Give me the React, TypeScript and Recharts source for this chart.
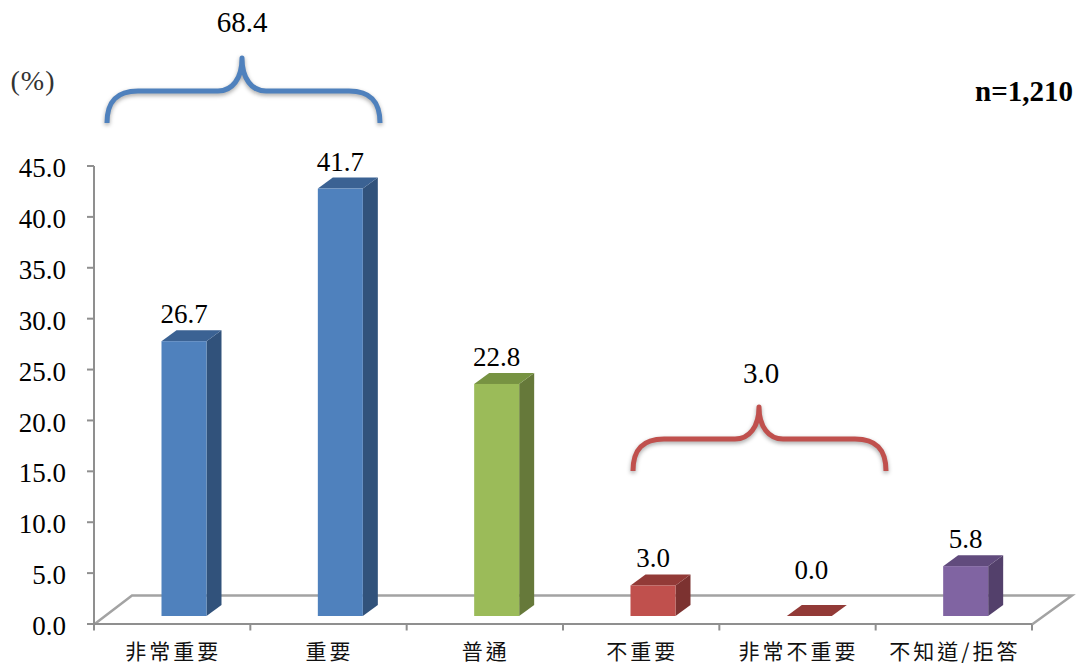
import { Bar, BarChart, LabelList, XAxis, YAxis } from "recharts";

const categories = ["非常重要", "重要", "普通", "不重要", "非常不重要", "不知道/拒答"];
// percentages printed above the bars
const percentages = [26.7, 41.7, 22.8, 3.0, 0.0, 5.8];
// bar heights read against the axis; the source draws the 5.8 bar visibly shorter than its label
const barHeights = [27.0, 42.0, 22.8, 3.0, 0.0, 4.9];
const yTicks = [0, 5, 10, 15, 20, 25, 30, 35, 40, 45];

const FRONT_COLORS = ["#4f81bd", "#4f81bd", "#9bbb59", "#c0504d", "#c0504d", "#8064a2"];
const TOP_COLORS = ["#3b6293", "#3b6293", "#779342", "#923a37", "#923a37", "#614b7d"];
const SIDE_COLORS = ["#31527b", "#31527b", "#66793a", "#7c3230", "#7c3230", "#53406b"];

const SERIF = '"Liberation Serif", serif';
const CJK = '"Noto Sans CJK TC", sans-serif';
const AXIS_GREY = "#8f8f8f";

const DEPTH_X = 15;
const DEPTH_Y = 11;
const BAR_SHIFT_X = 11.5;
const BAR_SHIFT_Y = 8;
const BAND = 156.33;

const chartData = categories.map((name, i) => ({
  name,
  percent: percentages[i],
  height: barHeights[i],
  index: i,
}));

function Box3D(props: any) {
  const { x, y, width, height, index } = props;
  const left = x + BAR_SHIFT_X;
  const right = left + width;
  const top = y - BAR_SHIFT_Y;
  const bottom = y + height - BAR_SHIFT_Y;
  return (
    <g>
      {height > 0 && (
        <polygon
          points={`${right},${top} ${right + DEPTH_X},${top - DEPTH_Y} ${right + DEPTH_X},${bottom - DEPTH_Y} ${right},${bottom}`}
          fill={SIDE_COLORS[index]}
        />
      )}
      <polygon
        points={`${left},${top} ${left + DEPTH_X},${top - DEPTH_Y} ${right + DEPTH_X},${top - DEPTH_Y} ${right},${top}`}
        fill={TOP_COLORS[index]}
      />
      {height > 0 && <rect x={left} y={top} width={width} height={height} fill={FRONT_COLORS[index]} />}
    </g>
  );
}

function BarValue(props: any) {
  const { x, y, width, value } = props;
  const lift = value === 0 ? 46 : 27;
  return (
    <text
      x={x + BAR_SHIFT_X + width / 2 + (value === 0 ? 2 : 0)}
      y={y - BAR_SHIFT_Y - lift + 9}
      textAnchor="middle"
      fontFamily={SERIF}
      fontSize={27}
      fill="#000"
    >
      {Number(value).toFixed(1)}
    </text>
  );
}

function CategoryTick(props: any) {
  const { x, payload, index } = props;
  const axisY = 624.5;
  return (
    <g>
      <line x1={x - BAND / 2} x2={x - BAND / 2} y1={axisY} y2={axisY + 6} stroke={AXIS_GREY} strokeWidth={2} />
      {index === categories.length - 1 && (
        <line x1={x + BAND / 2} x2={x + BAND / 2} y1={axisY} y2={axisY + 6} stroke={AXIS_GREY} strokeWidth={2} />
      )}
      <text x={x + 1} y={658.5} textAnchor="middle" fontFamily={CJK} fontSize={21} letterSpacing={3} fill="#111">
        {payload.value}
      </text>
    </g>
  );
}

function Floor() {
  return (
    <polyline
      points="94,624.5 132,595.5 1072,595.5 1032,624.5"
      fill="none"
      stroke="#a3a3a3"
      strokeWidth={2.5}
    />
  );
}

function Brace({ left, right, tip, mid, tipY, bottom, color }: any) {
  const r = 31;
  const path = [
    `M${left} ${bottom}`,
    `C${left} ${mid + 10} ${left + 10} ${mid} ${left + r} ${mid}`,
    `L${tip - 24} ${mid}`,
    `C${tip - 10} ${mid} ${tip} ${mid - 12} ${tip} ${tipY}`,
    `C${tip} ${mid - 12} ${tip + 10} ${mid} ${tip + 24} ${mid}`,
    `L${right - r} ${mid}`,
    `C${right - 10} ${mid} ${right} ${mid + 10} ${right} ${bottom}`,
  ].join(" ");
  return (
    <path
      d={path}
      fill="none"
      stroke={color}
      strokeWidth={5}
      strokeLinejoin="round"
      style={{ filter: "drop-shadow(0px 2px 2px rgba(0,0,0,0.35))" }}
    />
  );
}

export default function App() {
  return (
    <div style={{ position: "absolute", left: 0, top: 0, width: 1080, height: 665, background: "#fff" }}>
      <BarChart
        width={1080}
        height={665}
        data={chartData}
        barSize={45}
        margin={{ top: 166, right: 48, bottom: 0, left: 0 }}
      >
        <Floor />
        <XAxis
          dataKey="name"
          interval={0}
          height={41}
          tickLine={false}
          axisLine={{ stroke: AXIS_GREY, strokeWidth: 2 }}
          tick={<CategoryTick />}
        />
        <YAxis
          width={94}
          domain={[0, 45]}
          ticks={yTicks}
          interval={0}
          tickSize={7}
          tickMargin={21}
          tickFormatter={(v: number) => v.toFixed(1)}
          axisLine={{ stroke: AXIS_GREY, strokeWidth: 2 }}
          tickLine={{ stroke: AXIS_GREY, strokeWidth: 2 }}
          tick={{ fontFamily: SERIF, fontSize: 27, fill: "#000", dy: 1.5 }}
        />
        <Bar dataKey="height" isAnimationActive={false} shape={<Box3D />}>
          <LabelList dataKey="percent" content={<BarValue />} />
        </Bar>

        <Brace left={107} right={380} tip={242} mid={91} tipY={58} bottom={123} color="#4f81bd" />
        <Brace left={633} right={886} tip={759} mid={439} tipY={407} bottom={471} color="#c0504d" />
        <text x={242} y={32} textAnchor="middle" fontFamily={SERIF} fontSize={29} fill="#000">
          68.4
        </text>
        <text x={761} y={383} textAnchor="middle" fontFamily={SERIF} fontSize={29} fill="#000">
          3.0
        </text>
        <text x={33} y={90} textAnchor="middle" fontFamily={SERIF} fontSize={28} letterSpacing={1} fill="#333">
          (%)
        </text>
        <text x={1073} y={101} textAnchor="end" fontFamily={SERIF} fontSize={29} fontWeight="bold" fill="#000">
          n=1,210
        </text>
      </BarChart>
    </div>
  );
}
